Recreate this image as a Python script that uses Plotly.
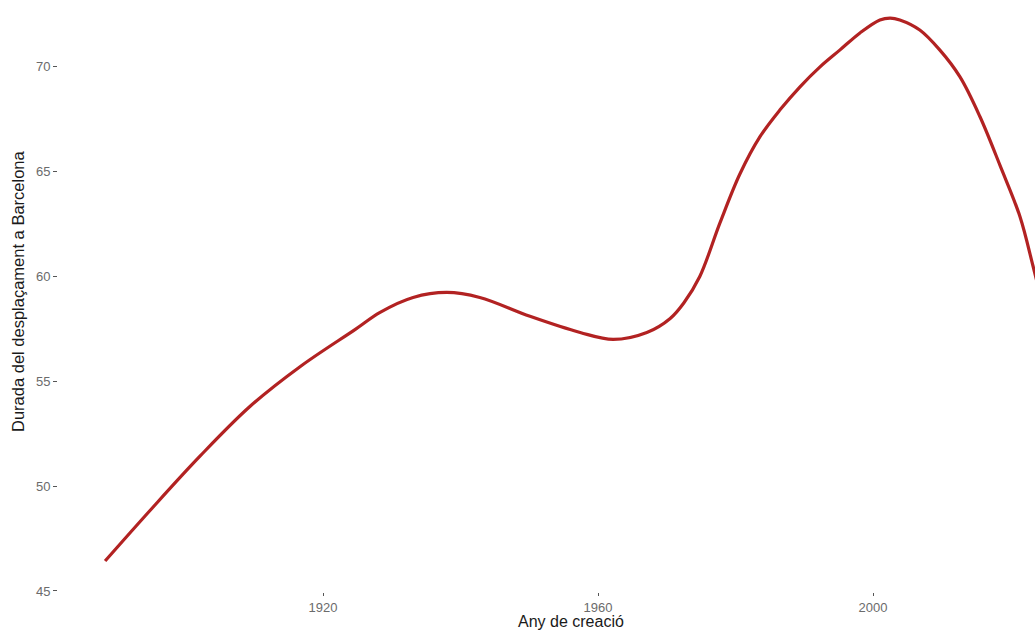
import plotly.graph_objects as go

# Data (smoothed trend)
years = [1888.3, 1895.0, 1902.1, 1909.4, 1916.7, 1924.7, 1928.3, 1933.1, 1938.0,
         1942.8, 1950.1, 1957.4, 1962.2, 1967.1, 1970.5, 1972.5, 1974.8, 1977.75,
         1980.65, 1983.56, 1986.47, 1989.38, 1992.29, 1995.2, 1998.1, 2001.0,
         2002.5, 2003.9, 2006.8, 2009.7, 2012.65, 2015.56, 2018.47, 2021.38,
         2023.27, 2024.5]
durada = [46.43, 48.9, 51.43, 53.81, 55.71, 57.48, 58.29, 59.0, 59.24,
          59.0, 58.1, 57.33, 57.0, 57.33, 58.0, 58.75, 60.0, 62.57,
          64.9, 66.67, 67.95, 69.05, 70.0, 70.81, 71.62, 72.24,
          72.33, 72.24, 71.76, 70.81, 69.52, 67.62, 65.3, 62.85,
          60.5, 58.9]

x_ticks = [1920, 1960, 2000]
y_ticks = [45, 50, 55, 60, 65, 70]

x_title = "Any de creació"
y_title = "Durada del desplaçament a Barcelona"

fig = go.Figure()
fig.add_trace(go.Scatter(
    x=years, y=durada, mode="lines",
    line=dict(color="#B22222", width=3.2, shape="spline", smoothing=1.0),
    showlegend=False, hoverinfo="skip",
))

tick_font = dict(family="Liberation Sans, Arial, sans-serif", size=13, color="#6b6b6b")
title_font = dict(family="Liberation Sans, Arial, sans-serif", size=16, color="#1a1a1a")

fig.update_layout(
    width=1035, height=630,
    margin=dict(l=58, r=0, t=0, b=38),
    paper_bgcolor="white", plot_bgcolor="white",
    xaxis=dict(
        range=[1881.45, 2023.56], tickvals=x_ticks, ticktext=[str(v) for v in x_ticks],
        showgrid=False, zeroline=False, showline=False,
        ticks="outside", ticklen=3, tickwidth=1, tickcolor="#555555",
        tickfont=tick_font,
    ),
    yaxis=dict(
        range=[44.95, 73.19], tickvals=y_ticks, ticktext=[str(v) for v in y_ticks],
        showgrid=False, zeroline=False, showline=False,
        ticks="outside", ticklen=4, tickwidth=1, tickcolor="#555555",
        tickfont=tick_font,
    ),
    annotations=[
        dict(text=x_title, xref="paper", yref="paper", x=0.525, y=-29.5 / 592,
             xanchor="center", yanchor="middle", showarrow=False, font=title_font),
        dict(text=y_title, xref="paper", yref="paper", x=-40 / 977, y=1 - 291 / 592,
             xanchor="center", yanchor="middle", showarrow=False, textangle=-90,
             font=dict(family="Liberation Sans, Arial, sans-serif", size=16.5, color="#1a1a1a")),
    ],
)

fig.write_html(
    "out.html",
    config={"displayModeBar": False},
    post_script="document.body.style.margin='0';document.body.style.overflow='hidden';",
)
